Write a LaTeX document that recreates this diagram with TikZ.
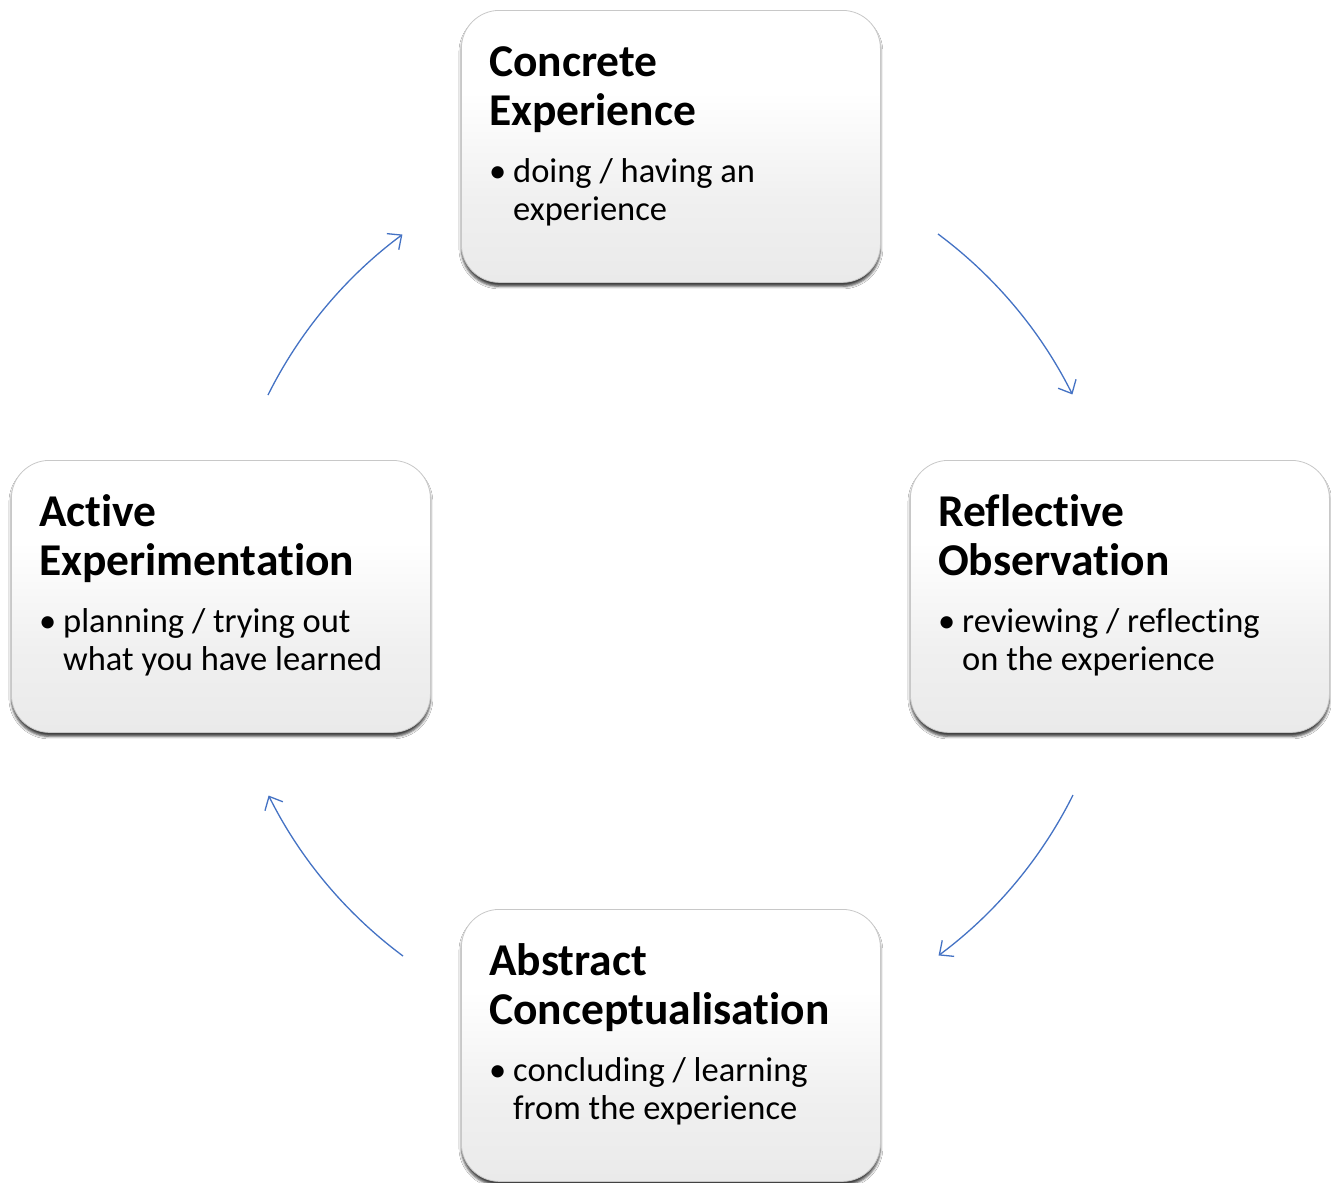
\documentclass[tikz,border=0pt]{standalone}
\usepackage{fontspec}
\setmainfont{Carlito}[Ligatures=NoCommon]
\usetikzlibrary{arrows.meta,shadows.blur}
\definecolor{arrowblue}{HTML}{4472C4}
\definecolor{boxedge}{HTML}{C8C8C8}
\pgfdeclareverticalshading{boxshade}{100bp}{color(0bp)=(black!12); color(40bp)=(black!6); color(60bp)=(white); color(100bp)=(white)}
\tikzset{
  cyclebox/.style={draw=boxedge, line width=0.8pt, rounded corners=38pt, shading=boxshade,
    minimum width=419pt, minimum height=272pt, inner sep=0pt, anchor=north west,
    blur shadow={shadow xshift=0pt, shadow yshift=-4pt, shadow blur radius=2.5pt, shadow opacity=75, shadow scale=1}},
  boxtext/.style={anchor=base west, inner sep=0pt, text=black},
  cyclearrow/.style={draw=arrowblue, line width=1.3pt, -{Straight Barb[length=11pt, width=20pt, line width=1.3pt]}}
}
\newcommand{\boxcontent}[4]{\parbox[t]{400pt}{\raggedright
  \fontsize{45.5}{49.5}\selectfont\bfseries #1\\#2\par
  \vspace{19pt}%
  \fontsize{34.5}{38}\selectfont\mdseries
  \makebox[24pt][l]{•}#3\\\hspace*{24pt}#4\par}}
\begin{document}
\begin{tikzpicture}[x=1pt,y=-1pt]
\useasboundingbox[fill=white] (0,0) rectangle (1331,1183);
% boxes
\node[cyclebox] (ce) at (461,10) {};
\node[cyclebox] (ro) at (910,460) {};
\node[cyclebox] (ac) at (461,909) {};
\node[cyclebox] (ae) at (11,460) {};
% texts
\node[boxtext] (ceT) at ([shift={(28,66)}]ce.north west) {\boxcontent{Concrete}{Experience}{doing / having an}{experience}};
\node[boxtext] (roT) at ([shift={(28,66)}]ro.north west) {\boxcontent{Reflective}{Observation}{reviewing / reflecting}{on the experience}};
\node[boxtext] (acT) at ([shift={(28,66)}]ac.north west) {\boxcontent{Abstract}{Conceptualisation}{concluding / learning}{from the experience}};
\node[boxtext] (aeT) at ([shift={(28,66)}]ae.north west) {\boxcontent{Active}{Experimentation}{planning / trying out}{what you have learned}};
% arrow end points on circle centred (670.5,595), radius 450
\coordinate (a1s) at (938,234);
\coordinate (a2s) at (1073,795);
\coordinate (a3s) at (403,956);
\coordinate (a4s) at (268,395);
\draw[cyclearrow] (a1s) arc[start angle=-53.4, end angle=-26.5, radius=450];
\draw[cyclearrow] (a2s) arc[start angle=26.5, end angle=53.4, radius=450];
\draw[cyclearrow] (a3s) arc[start angle=-233.4, end angle=-206.5, radius=450];
\draw[cyclearrow] (a4s) arc[start angle=-153.5, end angle=-126.6, radius=450];
\end{tikzpicture}
\end{document}
